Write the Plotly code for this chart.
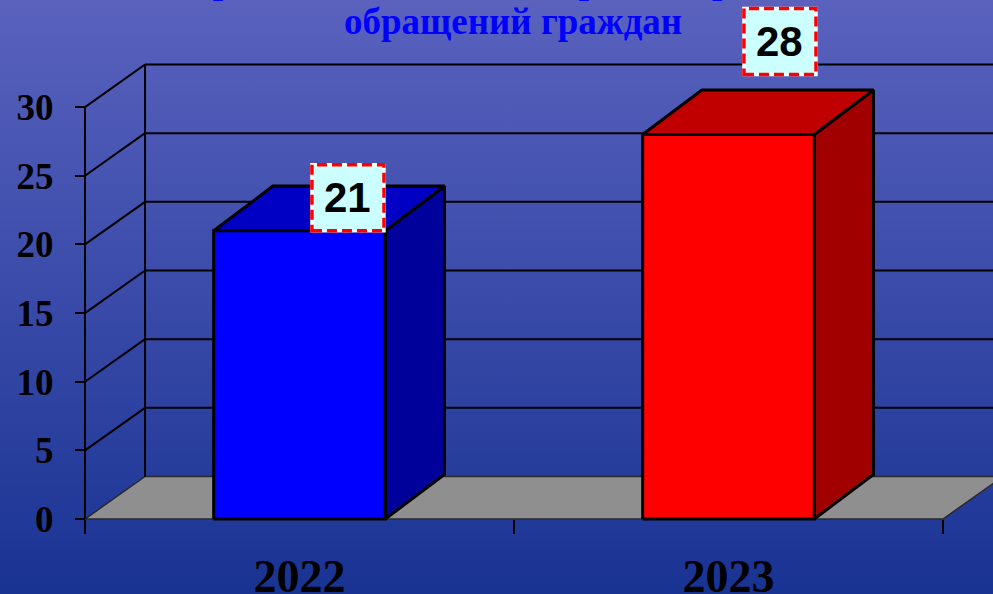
import plotly.graph_objects as go

years = ["2022", "2023"]
values = [21, 28]
y_ticks = [0, 5, 10, 15, 20, 25, 30]
title_lines = ["Сравнение количества рассмотренных", "обращений граждан"]

front_colors = ["#0000FF", "#FF0000"]
top_colors = ["#0000C4", "#C00000"]
side_colors = ["#00009A", "#A00000"]

# label boxes sit a bit right of the bar and (for 2023) float above it
label_dx = [0.113, 0.12]
label_lift = [0, 60]

# fake 3D: oblique offset of the back wall / bar depth, in data units
DX, DY = 0.14, 3.1
BDX, BDY = 0.138, 3.25
HALF = 0.2
X_RANGE = [-0.6981, 1.6166]
Y_RANGE = [-5.46, 37.8]
LEFT, RIGHT = -0.5, 1.5
SERIF = "Liberation Serif, Times New Roman, serif"
SANS = "Liberation Sans, Arial, sans-serif"

fig = go.Figure()

# gradient background
x0, x1 = X_RANGE
y0, y1 = Y_RANGE
fig.add_trace(go.Scatter(
    x=[x0, x1, x1, x0, x0], y=[y0, y0, y1, y1, y0],
    mode="lines", fill="toself", line=dict(width=0),
    fillgradient=dict(type="vertical", colorscale=[[0, "#193393"], [1, "#5A62BE"]]),
    hoverinfo="skip", showlegend=False,
))

# floor
fig.add_trace(go.Scatter(
    x=[LEFT, RIGHT, RIGHT + DX, LEFT + DX, LEFT],
    y=[0, 0, DY, DY, 0],
    mode="lines", fill="toself", fillcolor="#8F8F8F",
    line=dict(color="#2a2a2a", width=1.5),
    hoverinfo="skip", showlegend=False,
))

# back wall gridlines + left wall diagonals + vertical edges
gx, gy = [], []
for v in y_ticks:
    if v > 0:
        gx += [LEFT + DX, RIGHT + DX + 0.2, None]
        gy += [v + DY, v + DY, None]
        gx += [LEFT, LEFT + DX, None]
        gy += [v, v + DY, None]
gx += [LEFT, LEFT, None, LEFT + DX, LEFT + DX, None]
gy += [0, max(y_ticks), None, DY, max(y_ticks) + DY, None]
fig.add_trace(go.Scatter(
    x=gx, y=gy, mode="lines", line=dict(color="black", width=2),
    hoverinfo="skip", showlegend=False,
))

# bars
for i, v in enumerate(values):
    l, r = i - HALF, i + HALF
    side = dict(x=[r, r + BDX, r + BDX, r, r], y=[0, BDY, v + BDY, v, 0])
    top = dict(x=[l, r, r + BDX, l + BDX, l], y=[v, v, v + BDY, v + BDY, v])
    front = dict(x=[l, r, r, l, l], y=[0, 0, v, v, 0])
    for face, col in ((side, side_colors[i]), (top, top_colors[i]), (front, front_colors[i])):
        fig.add_trace(go.Scatter(
            x=face["x"], y=face["y"], mode="lines", fill="toself", fillcolor=col,
            line=dict(color="black", width=3), hoverinfo="skip", showlegend=False,
        ))

# value labels in dashed boxes
for i, v in enumerate(values):
    cx = i + label_dx[i]
    for lc, dash in (("white", "solid"), ("#FF0000", "10px,5px")):
        fig.add_shape(
            type="rect", xref="x", yref="y", xsizemode="pixel", ysizemode="pixel",
            xanchor=cx, yanchor=v, x0=-36, x1=36,
            y0=label_lift[i], y1=label_lift[i] + 66,
            fillcolor="#CCFFFF" if lc == "white" else "rgba(0,0,0,0)",
            line=dict(color=lc, width=3.5, dash=dash), layer="above",
        )
    fig.add_annotation(
        x=cx, y=v, yshift=label_lift[i] + 33, text=str(v), showarrow=False,
        font=dict(family=SANS, size=42, color="black", weight="bold"),
        yanchor="middle",
    )

# title (first line is cut off by the top edge)
fig.add_annotation(
    xref="paper", yref="paper", x=513 / 993, y=1 + 19 / 594, yanchor="middle",
    text=title_lines[0], showarrow=False,
    font=dict(family=SERIF, size=37, color="#0000FF", weight="bold"),
)
fig.add_annotation(
    xref="paper", yref="paper", x=513 / 993, y=1 - 22 / 594, yanchor="middle",
    text=title_lines[1], showarrow=False,
    font=dict(family=SERIF, size=37, color="#0000FF", weight="bold"),
)

fig.update_xaxes(
    range=X_RANGE, anchor="free", position=75 / 594,
    tickmode="array", tickvals=list(range(len(years))), ticktext=years,
    ticks="", showgrid=False, zeroline=False, showline=False,
    tickfont=dict(family=SERIF, size=46, color="black", weight="bold"),
    ticklabelstandoff=26, automargin=False,
    minor=dict(tickmode="array", tickvals=[LEFT, 0.5, RIGHT], ticks="outside",
               ticklen=14, tickwidth=1.5, tickcolor="black", showgrid=False),
)
fig.update_yaxes(
    range=Y_RANGE, anchor="free", position=85 / 993,
    tickmode="array", tickvals=y_ticks, ticks="outside", ticklen=10,
    tickwidth=2, tickcolor="black", showgrid=False, zeroline=False, showline=False,
    tickfont=dict(family=SERIF, size=37, color="black", weight="bold"),
    ticklabelstandoff=14, automargin=False,
)
fig.update_layout(
    width=993, height=594, margin=dict(l=0, r=0, t=0, b=0),
    paper_bgcolor="#3A4AAA", plot_bgcolor="rgba(0,0,0,0)",
    showlegend=False,
)
# drop the page's default 8px body margin so the figure fills the window
fig.write_html(
    "out.html",
    config={"displayModeBar": False},
    post_script="document.body.style.margin='0';",
)
